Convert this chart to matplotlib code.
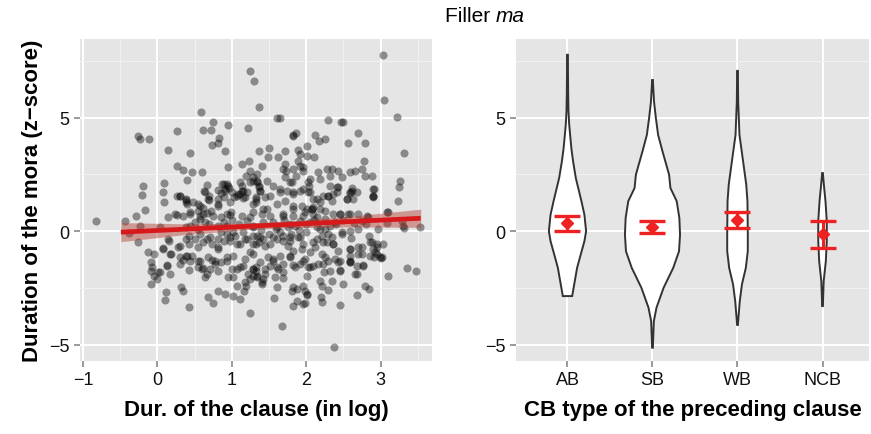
import numpy as np
import matplotlib.pyplot as plt
from matplotlib.ticker import MultipleLocator

# --- left panel: mora duration vs clause duration ---
scatter_pts = [
    # upper left / upper middle
    (1.25, 7.03), (1.30, 6.59), (1.36, 5.44), (0.59, 5.22), (0.75, 4.82), (0.95, 4.65),
    (0.62, 4.47), (0.72, 4.43), (1.22, 4.52), (0.26, 4.39), (-0.26, 4.17), (-0.23, 4.04),
    (-0.11, 4.04), (0.83, 4.12), (0.82, 3.90), (0.74, 3.77), (0.15, 3.55), (0.44, 3.46),
    (0.91, 3.51), (1.36, 3.51), (1.23, 3.11), (1.14, 2.94), (0.27, 2.85), (0.35, 2.68),
    (0.46, 2.59), (0.60, 2.59), (0.95, 2.81), (0.40, 2.24), (0.09, 2.11), (-0.19, 1.97),
    (-0.21, 1.58), (0.08, 1.71), (0.89, 2.06), (0.95, 1.97), (0.91, 1.84), (0.67, 2.02),
    (0.63, 1.75), (0.81, 1.80), (0.27, 1.54), (0.38, 1.40), (1.25, 2.63), (1.19, 2.41),
    (1.34, 2.50), (1.14, 1.97), (1.15, 1.75), (1.29, 2.19), (1.36, 1.93),
    # upper right
    (3.03, 7.76), (3.05, 5.79), (3.22, 5.04), (3.32, 3.42), (3.26, 2.19), (3.25, 1.93),
    (2.91, 1.84), (2.90, 1.54), (1.61, 4.96), (1.65, 5.00), (2.30, 4.87), (2.47, 4.82),
    (2.50, 4.82), (2.70, 4.30), (2.79, 3.90), (2.56, 3.86), (2.12, 4.21), (2.17, 3.95),
    (2.25, 4.04), (1.83, 4.25), (1.87, 4.34), (2.01, 3.73), (1.50, 3.64), (1.49, 3.25),
    (1.62, 3.25), (1.72, 3.51), (1.89, 3.55), (1.92, 3.38), (2.01, 3.29), (2.11, 3.25),
    (2.78, 3.07), (1.41, 2.89), (1.89, 3.07), (1.92, 2.85), (1.96, 2.81), (1.69, 2.72),
    (1.73, 2.63), (2.28, 2.72), (2.35, 2.72), (2.43, 2.63), (2.59, 2.59), (2.66, 2.63),
    (2.75, 2.72), (2.79, 2.41), (2.89, 2.41), (2.16, 2.59), (2.19, 2.28), (2.32, 2.41),
    (2.48, 2.37), (1.29, 2.37), (1.34, 2.15), (1.48, 2.19), (1.72, 2.37), (1.81, 2.15),
    (1.87, 2.41), (2.05, 2.28), (2.04, 1.97), (2.32, 1.97), (2.43, 1.93), (2.62, 1.89),
    (2.59, 1.67), (1.83, 4.17), (1.72, 2.94), (1.83, 2.72), (1.96, 2.63),
    # band 1 .. 2
    (1.56, 1.97), (1.65, 1.84), (1.79, 2.15), (1.83, 1.71), (1.96, 1.84), (2.03, 2.15),
    (2.05, 1.71), (2.15, 1.40), (2.23, 1.54), (2.30, 1.54), (2.35, 1.32), (2.42, 1.93),
    (2.55, 1.40), (2.62, 1.75), (2.63, 1.40), (2.68, 1.71), (2.90, 1.84), (2.90, 1.49),
    (2.36, 1.62), (1.61, 1.18), (1.72, 1.32), (1.83, 1.10), (1.95, 1.10), (2.01, 0.96),
    (2.09, 1.05), (2.19, 0.96), (2.25, 0.88), (2.36, 0.75), (2.46, 0.75), (2.56, 0.75),
    (2.70, 0.75), (2.82, 0.66), (3.09, 0.83), (1.69, 0.66), (1.83, 0.66), (1.96, 0.66),
    (2.08, 0.96), (2.09, 0.75),
    (0.09, 1.27), (0.70, 1.54), (0.70, 1.36), (0.87, 2.06), (0.94, 2.06), (0.97, 1.89),
    (0.91, 1.75), (0.86, 1.67), (1.11, 2.15), (1.14, 1.75), (1.09, 1.62), (1.21, 1.71),
    (1.25, 2.15), (1.34, 2.19), (1.36, 1.97), (1.38, 1.75), (0.30, 1.54), (0.38, 1.36),
    (0.48, 1.27), (0.40, 1.18), (0.58, 1.10), (0.62, 1.01), (0.54, 0.88), (0.67, 0.79),
    (0.72, 0.88), (0.81, 1.40), (0.82, 1.10), (0.98, 1.27), (1.03, 1.49), (1.07, 1.54),
    (1.15, 1.45), (1.32, 1.40), (1.45, 1.49), (0.15, 0.61), (0.26, 0.70), (0.35, 0.66),
    (0.44, 0.75), (0.58, 0.66), (0.75, 0.66), (0.98, 0.70), (1.14, 0.66), (1.25, 0.61),
    (1.29, 0.83), (1.41, 0.75), (1.48, 0.96),
    # left edge and lower left
    (-0.83, 0.44), (-0.44, 0.44), (-0.38, -0.09), (-0.26, -0.48), (-0.28, 0.66),
    (-0.17, 0.92), (-0.23, 0.22), (0.24, 0.75), (0.03, 0.18), (-0.12, -0.92),
    (-0.05, -1.01), (-0.08, -1.36), (-0.09, -1.75), (-0.05, -1.97), (0.03, -1.80),
    (0.00, -2.11), (-0.08, -2.32), (0.07, -0.75), (0.16, -0.44), (0.19, -1.01),
    (0.13, -1.49), (0.11, -2.68), (0.10, -3.03), (0.32, -2.46), (0.34, -2.63),
    (0.42, -3.33), (0.68, -2.89), (0.75, -3.16), (0.82, -2.63), (0.91, -2.76),
    (1.02, -2.85), (1.07, -2.41), (1.11, -2.98), (1.17, -2.63), (1.19, -2.41),
    (1.25, -3.60), (0.42, -1.71), (0.31, -1.45), (0.35, -1.27), (0.40, -1.10),
    (0.55, -1.32), (0.60, -1.67), (0.67, -1.89), (0.62, -1.62), (0.74, -1.27),
    (0.81, -1.75), (0.85, -1.36), (0.94, -1.32), (1.01, -1.67), (1.02, -2.02),
    (1.07, -1.67), (1.15, -1.54), (1.18, -1.23), (1.28, -1.67), (1.29, -1.97),
    (1.22, -1.89), (0.31, 1.54), (0.39, 1.27), (0.44, 0.83), (0.54, 1.18), (0.64, 1.71),
    (0.68, 1.40), (0.81, 1.18), (0.90, 1.49), (1.01, 1.71), (1.11, 1.62), (1.18, 1.49),
    (1.29, 1.18), (1.32, 1.49), (0.85, 0.61), (0.94, 0.75), (0.99, 0.83),
    (0.62, 0.75), (0.58, 0.53), (0.31, -0.66), (0.38, -0.35), (0.42, -0.22),
    (0.51, -0.35), (0.58, -0.13), (0.67, -0.35), (0.74, -0.57), (0.81, -0.79),
    (0.82, -0.35), (0.94, -0.13), (0.98, -0.44), (1.05, -0.22), (1.11, -0.57),
    (1.21, -0.35), (1.25, -0.92), (1.29, -0.57), (1.34, -0.22), (0.31, -1.14),
    (0.38, -1.10), (0.15, -0.35),
    (0.07, -0.79), (0.17, -1.01), (0.28, -0.70), (0.42, -0.57), (0.47, -1.10),
    (0.54, -0.70), (0.62, -0.48), (0.71, -0.26), (0.81, -0.70), (0.89, -0.44),
    (0.98, -0.26), (1.07, -0.57), (1.18, -0.35), (1.32, -0.57), (1.38, -0.26),
    (1.45, -0.66), (1.49, -1.14), (1.02, -1.10), (0.94, -1.14), (0.78, -1.32),
    (0.68, -1.14), (0.58, -1.32), (0.44, -1.32), (0.13, -1.54), (-0.07, -1.58),
    (0.01, -1.80), (0.17, -1.89), (0.55, -1.58), (0.64, -2.02), (0.71, -1.67),
    (0.78, -1.45), (0.95, -2.02), (1.11, -1.58), (1.25, -2.11), (1.34, -2.02),
    (1.41, -2.24), (1.45, -1.89), (1.32, -1.58), (1.18, -2.24),
    # under and around the fit line
    (0.38, 0.18), (0.44, 0.22), (0.54, 0.09), (0.64, 0.39), (0.81, 0.22), (0.94, 0.22),
    (1.02, -0.04), (1.15, -0.04), (1.29, 0.18), (1.29, 0.22), (1.42, 0.39), (1.61, 0.18),
    (1.79, 0.31), (1.92, 0.44), (2.05, 0.39), (2.19, 0.09), (2.32, 0.22),
    (1.55, 0.40), (1.60, 0.10), (1.70, 0.50), (1.75, 0.20), (1.85, 0.25), (1.90, 0.05),
    (2.00, 0.30), (2.10, 0.50), (2.15, 0.20), (2.25, 0.10), (2.40, 0.30), (2.50, 0.50),
    (2.65, 0.35), (2.80, 0.30), (1.50, -0.10), (1.65, -0.05), (1.80, -0.10), (2.00, -0.05),
    (2.30, -0.10), (2.60, -0.30), (0.90, 0.40), (1.10, 0.30), (1.20, 0.45), (0.70, 0.30),
    (0.50, 0.40), (1.00, 0.50), (0.85, -0.05), (1.40, 0.05), (2.70, 0.10), (2.85, -0.20),
    # right half, below the line
    (1.56, -0.26), (1.69, -0.44), (1.79, -0.26), (1.92, -0.26), (1.96, -0.57),
    (2.09, -0.48), (2.23, -0.48), (2.36, -0.57), (2.48, -0.13), (2.59, -0.79),
    (2.70, -0.70), (2.70, -1.01), (2.86, -0.48), (2.95, -0.57), (2.90, -0.79),
    (2.86, -1.10), (2.99, -1.14), (2.95, -1.01), (1.56, -1.32), (1.61, -1.58),
    (1.69, -1.45), (1.79, -1.14), (1.85, -1.58), (1.96, -1.32), (2.05, -1.58),
    (2.16, -1.45), (2.26, -1.14), (2.32, -1.75), (2.43, -1.36), (2.46, -1.75),
    (2.59, -1.36), (2.68, -1.89), (2.77, -1.54), (1.61, -2.46), (1.83, -2.46),
    (2.01, -2.76), (1.96, -3.20),
    (1.29, -0.22), (1.36, -0.48), (1.42, -0.35), (1.52, -0.57), (1.61, -0.35),
    (1.69, -0.22), (1.79, -0.44), (1.89, -0.26), (1.95, -0.79), (1.83, -0.88),
    (1.75, -0.66), (1.65, -1.10), (1.56, -1.23), (1.52, -1.54), (1.62, -1.67),
    (1.69, -1.80), (1.83, -1.49), (1.92, -1.45), (1.99, -1.23), (2.03, -1.58),
    (2.01, -1.97), (1.79, -1.10), (1.29, -1.01), (1.38, -1.36), (1.45, -1.67),
    (1.32, -1.75), (2.05, -0.92), (2.12, -0.70), (2.15, -0.35), (2.21, -0.22),
    (2.28, -0.48), (2.35, -0.26), (2.36, -0.57), (2.21, -1.01), (2.23, -1.45),
    (2.30, -1.32), (2.39, -1.23), (2.46, -1.32), (2.43, -0.88), (2.59, -0.79),
    (2.59, -1.10), (2.75, -1.01), (2.75, -0.70), (2.89, -0.48), (2.95, -0.70),
    (2.92, -0.92), (3.02, -1.14), (2.91, -1.14), (2.59, -1.32), (2.68, -1.54),
    # right half, lower sparse
    (3.36, -1.62), (3.48, -1.75), (3.10, -1.97), (2.79, -2.41), (2.85, -2.54),
    (2.68, -2.81), (2.46, -3.25), (2.38, -5.09), (1.68, -4.17), (1.57, -2.94),
    (1.83, -3.29), (1.88, -3.07), (1.99, -3.16), (2.01, -2.81), (1.88, -2.54),
    (1.81, -2.63), (1.96, -2.41), (1.99, -2.63), (2.21, -3.11), (2.20, -2.89),
    (2.30, -2.59), (2.21, -2.41), (2.19, -2.19), (2.35, -2.19), (2.50, -2.32),
    (2.46, -1.71), (2.59, -1.36), (2.66, -1.89), (2.77, -1.49), (2.24, -1.80),
    (2.09, -1.54), (1.69, -2.06), (1.58, -2.02), (1.42, -2.11), (1.41, -2.32),
    (1.34, -1.97), (1.28, -1.67),
    # right half, above the line
    (1.38, 1.75), (1.52, 1.54), (1.65, 1.71), (1.74, 1.75), (1.83, 1.62), (1.92, 1.75),
    (2.03, 1.71), (2.09, 1.40), (2.19, 1.27), (2.30, 1.54), (2.42, 1.71), (2.55, 1.40),
    (2.59, 1.71), (2.90, 1.54), (3.24, 1.32), (1.32, 1.27), (1.42, 0.96), (1.52, 0.66),
    (1.69, 0.75), (1.83, 0.96), (1.99, 0.83), (2.08, 0.96), (2.15, 0.61), (2.25, 0.53),
    (2.46, 0.75), (2.59, 0.75), (2.75, 0.44), (2.83, 0.61), (3.10, 0.83), (3.30, 0.22),
    (3.53, 0.18), (2.97, 0.09), (2.59, 0.00), (2.48, -0.04), (2.39, 0.39),
    (3.29, 0.44), (3.32, 0.13), (3.09, 0.35), (3.03, -0.57), (3.01, -1.18),
]
clause_dur = np.array([p[0] for p in scatter_pts])
mora_z = np.array([p[1] for p in scatter_pts])

# linear fit and its confidence band, as drawn
fit_x = [-0.49, 3.54]
fit_y = [-0.04, 0.57]
ci_x = [-0.49, 0.3, 1.2, 1.8, 2.7, 3.54]
ci_half = [0.42, 0.25, 0.14, 0.15, 0.25, 0.40]

# --- right panel: violins by clause-boundary type ---
cb_types = ['AB', 'SB', 'WB', 'NCB']
violin_y = {
    'AB': [7.76, 6.0, 5.26, 4.7, 4.24, 3.6, 3.07, 2.34, 1.32, 0.73, 0.0, -0.44, -1.02, -1.61, -2.19, -2.85],
    'SB': [6.65, 5.70, 4.97, 4.24, 3.51, 2.49, 1.90, 1.32, 0.58, -0.15, -0.88, -1.61, -2.49, -3.36, -3.95, -5.12],
    'WB': [7.05, 5.70, 4.24, 3.07, 2.05, 1.32, 0.0, -0.88, -1.61, -2.34, -3.07, -4.12],
    'NCB': [2.56, 2.05, 1.32, 0.44, -0.44, -1.32, -2.19, -3.29],
}
violin_halfwidth = {
    'AB': [0.004, 0.008, 0.012, 0.020, 0.031, 0.047, 0.066, 0.098, 0.164, 0.199, 0.219, 0.199, 0.156, 0.113, 0.086, 0.055],
    'SB': [0.004, 0.018, 0.040, 0.066, 0.118, 0.195, 0.211, 0.285, 0.316, 0.324, 0.312, 0.244, 0.130, 0.047, 0.016, 0.004],
    'WB': [0.004, 0.008, 0.023, 0.066, 0.103, 0.117, 0.121, 0.121, 0.098, 0.052, 0.027, 0.004],
    'NCB': [0.004, 0.016, 0.035, 0.050, 0.050, 0.039, 0.014, 0.004],
}
cb_mean = [0.35, 0.19, 0.50, -0.12]
cb_low = [0.01, -0.07, 0.15, -0.73]
cb_high = [0.67, 0.47, 0.86, 0.47]

panel_bg = '#E5E5E5'
plt.rcParams['font.family'] = ['Liberation Sans', 'DejaVu Sans']

fig = plt.figure(figsize=(8.71, 4.35), dpi=100)
ax1 = fig.add_axes([0.0918, 0.168, 0.404, 0.740])
ax2 = fig.add_axes([0.592, 0.168, 0.406, 0.740])

for ax in (ax1, ax2):
    ax.set_facecolor(panel_bg)
    for s in ax.spines.values():
        s.set_visible(False)
    ax.tick_params(colors='#7F7F7F', labelcolor='#111111', labelsize=13, length=4, width=1.1)
    ax.set_axisbelow(True)
    ax.yaxis.set_major_locator(MultipleLocator(5))
    ax.yaxis.set_minor_locator(MultipleLocator(2.5))
    ax.grid(which='major', color='white', linewidth=1.4)
    ax.grid(which='minor', color='#F2F2F2', linewidth=0.7)
    ax.tick_params(which='minor', length=0)
    ax.set_ylim(-5.7, 8.45)

# scatter
ax1.scatter(clause_dur, mora_z, s=34, color='black', alpha=0.4, linewidths=0, zorder=2)
ci_mid = np.interp(ci_x, fit_x, fit_y)
ax1.fill_between(ci_x, ci_mid - np.array(ci_half), ci_mid + np.array(ci_half),
                 color='#B03A2E', alpha=0.45, linewidth=0, zorder=3)
ax1.plot(fit_x, fit_y, color='#D7191C', linewidth=3.4, solid_capstyle='butt', zorder=4)
ax1.set_xlim(-1.04, 3.69)
ax1.xaxis.set_major_locator(MultipleLocator(1))
ax1.xaxis.set_minor_locator(MultipleLocator(0.5))
ax1.set_xlabel('Dur. of the clause (in log)', fontsize=16, fontweight='bold', labelpad=8)
ax1.set_ylabel('Duration of the mora (z\u2212score)', fontsize=16, fontweight='bold', labelpad=4)

# violins
positions = np.arange(1, len(cb_types) + 1)
for pos, cb in zip(positions, cb_types):
    y = np.array(violin_y[cb])
    hw = np.array(violin_halfwidth[cb])
    xs = np.concatenate([pos - hw, (pos + hw)[::-1], [pos - hw[0]]])
    ys = np.concatenate([y, y[::-1], [y[0]]])
    ax2.fill(xs, ys, facecolor='white', edgecolor='#333333', linewidth=1.4, zorder=2)

ax2.errorbar(positions, cb_mean,
             yerr=[np.array(cb_mean) - np.array(cb_low), np.array(cb_high) - np.array(cb_mean)],
             fmt='D', color='#EE2222', markersize=6.5, elinewidth=2.2, capsize=9.5,
             capthick=2.4, zorder=4)
ax2.set_xlim(0.39, 4.55)
ax2.set_xticks(positions)
ax2.set_xticklabels(cb_types)
ax2.set_xlabel('CB type of the preceding clause', fontsize=16, fontweight='bold', labelpad=8)

fig.text(0.569, 0.961, 'Filler ', ha='right', va='center', fontsize=15)
fig.text(0.569, 0.961, 'ma', ha='left', va='center', fontsize=15, style='italic')

fig.savefig('out.png', dpi=100)
